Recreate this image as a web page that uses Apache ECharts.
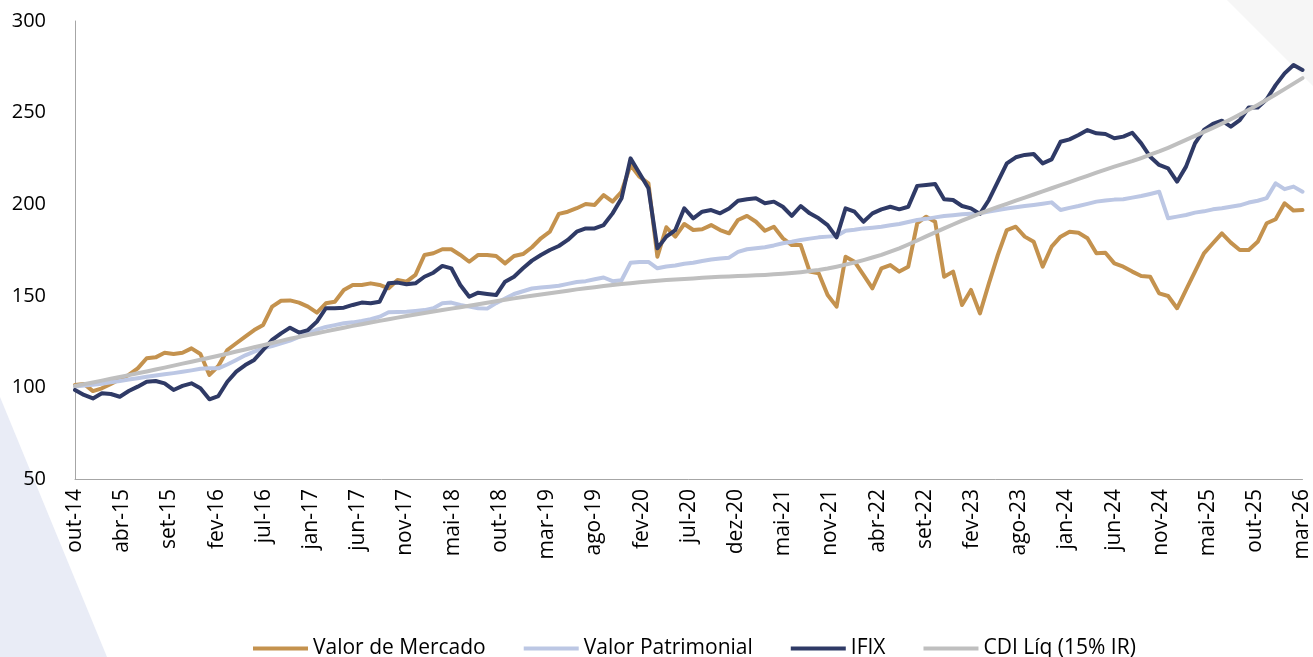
<!DOCTYPE html>
<html>
<head>
<meta charset="utf-8">
<script src="https://cdn.jsdelivr.net/npm/echarts@6/dist/echarts.min.js"></script>
<style>
  html, body { margin: 0; padding: 0; background: #fff; }
  #chart { width: 1313px; height: 657px; }
</style>
</head>
<body>
<div id="chart"></div>
<script>
// meses de out-14 a mar-26 (138 pontos mensais)
var meses = ['jan', 'fev', 'mar', 'abr', 'mai', 'jun', 'jul', 'ago', 'set', 'out', 'nov', 'dez'];
var datas = [];
for (var i = 0; i < 138; i++) {
    var m = 9 + i;
    datas.push(meses[m % 12] + '-' + (14 + Math.floor(m / 12)));
}

// rótulos do eixo x, como no gráfico original
var rotulosX = ['out-14', 'abr-15', 'set-15', 'fev-16', 'jul-16', 'jan-17', 'jun-17', 'nov-17', 'mai-18',
    'out-18', 'mar-19', 'ago-19', 'fev-20', 'jul-20', 'dez-20', 'mai-21', 'nov-21', 'abr-22', 'set-22',
    'fev-23', 'ago-23', 'jan-24', 'jun-24', 'nov-24', 'mai-25', 'out-25', 'mar-26'];

var valorMercado = [
    101.3, 101.9, 98.0, 99.5, 101.9, 104.4, 106.8, 110.4, 115.9, 116.4,
    118.9, 118.2, 118.9, 121.3, 118.2, 106.8, 111.7, 120.4, 124.1, 127.7,
    131.3, 134.1, 144.1, 147.3, 147.5, 146.3, 144.1, 140.8, 145.9, 146.8,
    153.2, 155.9, 155.9, 156.8, 155.9, 154.1, 158.6, 157.7, 161.4, 172.3,
    173.2, 175.4, 175.4, 172.3, 168.6, 172.3, 172.3, 171.7, 167.7, 171.7,
    172.8, 176.5, 181.4, 185.0, 194.7, 195.9, 197.8, 200.1, 199.6, 205.0,
    201.4, 206.8, 221.4, 215.0, 211.4, 171.3, 187.4, 182.3, 189.2, 185.9,
    186.3, 188.6, 185.9, 184.1, 191.4, 193.6, 190.4, 185.5, 187.7, 181.4,
    177.7, 177.7, 163.2, 162.3, 150.4, 144.1, 171.3, 168.6, 161.4, 154.1,
    165.0, 166.8, 163.2, 165.9, 189.6, 193.2, 190.4, 160.4, 163.2, 145.0,
    153.2, 140.4, 156.8, 172.3, 185.9, 187.7, 182.3, 179.5, 165.9, 176.8,
    182.3, 185.0, 184.4, 181.4, 173.2, 173.5, 167.7, 165.9, 163.2, 160.8,
    160.4, 151.3, 149.9, 143.2, 153.2, 163.2, 173.2, 178.7, 184.1, 179.0,
    175.0, 175.0, 179.5, 189.6, 191.8, 200.5, 196.5, 196.8
];

var valorPatrimonial = [
    100.5, 101.0, 101.5, 102.0, 102.8, 103.5, 104.3, 105.0, 105.8, 106.5,
    107.2, 107.8, 108.5, 109.3, 110.2, 110.5, 110.4, 112.5, 115.0, 117.5,
    119.5, 121.3, 122.5, 124.0, 125.5, 127.5, 129.5, 131.5, 133.0, 134.0,
    135.0, 135.5, 136.2, 137.2, 138.6, 141.0, 141.2, 141.3, 141.7, 142.2,
    143.2, 145.9, 146.3, 145.0, 144.1, 143.2, 143.0, 146.0, 148.5, 151.0,
    152.5, 154.0, 154.5, 155.0, 155.5, 156.5, 157.5, 158.0, 159.0, 160.0,
    158.0, 158.5, 168.0, 168.5, 168.5, 165.0, 166.0, 166.5, 167.5, 168.0,
    169.0, 169.8, 170.3, 170.8, 174.0, 175.4, 176.0, 176.5, 177.5, 178.7,
    179.5, 180.5, 181.2, 181.9, 182.3, 182.6, 185.5, 186.0, 186.8, 187.2,
    187.7, 188.5, 189.2, 190.3, 191.4, 192.0, 192.8, 193.6, 194.0, 194.5,
    194.8, 195.0, 196.0, 196.8, 197.7, 198.3, 199.0, 199.6, 200.3, 201.0,
    196.8, 198.0, 199.0, 200.2, 201.4, 202.0, 202.5, 202.7, 203.6, 204.5,
    205.6, 206.8, 192.3, 193.2, 194.1, 195.4, 196.1, 197.2, 197.8, 198.6,
    199.4, 200.9, 201.9, 203.3, 211.4, 208.2, 209.6, 206.8
];

var ifix = [
    98.6, 95.9, 94.0, 96.8, 96.4, 94.9, 98.0, 100.4, 103.1, 103.5,
    102.2, 98.6, 100.8, 102.2, 99.5, 93.5, 95.3, 103.1, 108.6, 112.2,
    115.0, 120.4, 125.9, 129.5, 132.6, 129.9, 131.3, 135.9, 143.2, 143.2,
    143.5, 145.0, 146.3, 145.9, 146.8, 156.8, 157.2, 156.3, 156.8, 160.4,
    162.6, 166.3, 165.0, 155.9, 149.5, 151.7, 151.0, 150.4, 157.7, 160.4,
    165.0, 169.2, 172.3, 175.0, 177.2, 180.5, 185.0, 186.8, 186.8, 188.6,
    195.0, 203.2, 225.0, 216.9, 208.7, 175.9, 182.3, 185.9, 197.8, 192.3,
    195.9, 196.8, 195.0, 197.7, 201.9, 202.7, 203.2, 200.5, 201.4, 198.6,
    193.6, 199.0, 195.0, 192.3, 188.6, 181.9, 197.7, 195.9, 190.4, 195.0,
    197.2, 198.6, 197.2, 198.6, 210.0, 210.5, 211.0, 202.7, 202.3, 199.0,
    197.7, 194.7, 202.3, 212.3, 222.3, 225.6, 226.9, 227.4, 222.3, 224.5,
    234.1, 235.4, 237.8, 240.5, 238.7, 238.3, 236.0, 236.9, 239.0, 233.2,
    225.9, 221.4, 219.6, 212.3, 220.5, 233.2, 240.5, 243.8, 245.6, 242.3,
    245.9, 252.8, 252.8, 257.3, 265.0, 271.4, 276.0, 273.3
];

var cdiLiq = [
    100.8, 101.8, 102.7, 103.7, 104.7, 105.7, 106.7, 107.7, 108.7, 109.8,
    110.8, 111.9, 113.0, 114.0, 115.1, 116.2, 117.3, 118.4, 119.6, 120.7,
    121.9, 123.0, 124.2, 125.4, 126.6, 127.6, 128.6, 129.6, 130.6, 131.6,
    132.6, 133.6, 134.5, 135.4, 136.3, 137.2, 138.1, 139.0, 139.8, 140.6,
    141.4, 142.2, 143.0, 143.8, 144.6, 145.4, 146.2, 147.0, 147.8, 148.6,
    149.3, 150.0, 150.7, 151.4, 152.1, 152.8, 153.5, 154.1, 154.7, 155.3,
    155.9, 156.4, 156.9, 157.4, 157.8, 158.2, 158.6, 158.9, 159.2, 159.5,
    159.8, 160.1, 160.4, 160.6, 160.8, 161.0, 161.2, 161.4, 161.7, 162.0,
    162.4, 162.9, 163.5, 164.1, 164.9, 165.9, 167.0, 168.2, 169.5, 170.9,
    172.3, 174.1, 175.9, 178.0, 180.2, 182.4, 184.6, 186.8, 188.9, 191.0,
    193.0, 195.0, 196.8, 198.5, 200.2, 201.9, 203.6, 205.3, 207.0, 208.7,
    210.4, 212.1, 213.8, 215.5, 217.2, 218.9, 220.5, 222.0, 223.5, 225.2,
    227.0, 228.8, 230.8, 232.9, 235.1, 237.3, 239.5, 241.7, 244.0, 246.4,
    248.9, 251.5, 254.2, 257.0, 259.9, 262.8, 265.8, 268.8
];

var fonte = 'Open Sans';
var chart = echarts.init(document.getElementById('chart'));

function linha(nome, dados, cor) {
    return {
        name: nome,
        type: 'line',
        data: dados,
        xAxisIndex: 0,
        symbol: 'none',
        smooth: false,
        lineStyle: { width: 4, color: cor, join: 'round', cap: 'round' },
        itemStyle: { color: cor }
    };
}

var option = {
    backgroundColor: '#ffffff',
    animation: false,
    textStyle: { fontFamily: fonte },
    graphic: [
        {
            type: 'polygon',
            z: -10,
            shape: { points: [[0, 397], [0, 657], [107, 657]] },
            style: { fill: '#e9ecf6' }
        },
        {
            type: 'polygon',
            z: -10,
            shape: { points: [[1227, 0], [1313, 0], [1313, 86]] },
            style: { fill: '#f6f6f6' }
        }
    ],
    grid: { left: 75, right: 10, top: 21, bottom: 178, containLabel: false },
    legend: {
        left: 248,
        top: 633,
        icon: 'rect',
        itemWidth: 55,
        itemHeight: 4,
        itemGap: 38,
        textStyle: { fontFamily: fonte, fontSize: 21, color: '#000' },
        data: ['Valor de Mercado', 'Valor Patrimonial', 'IFIX', 'CDI Líq (15% IR)']
    },
    xAxis: [
        {
            type: 'category',
            data: datas,
            boundaryGap: false,
            axisLine: { show: true, lineStyle: { color: '#a6a6a6', width: 1 } },
            axisTick: { show: false },
            axisLabel: { show: false },
            splitLine: { show: false }
        },
        {
            type: 'category',
            data: rotulosX,
            boundaryGap: false,
            position: 'bottom',
            offset: 0,
            axisLine: { show: false },
            axisTick: { show: false },
            axisLabel: {
                show: true,
                interval: 0,
                rotate: 90,
                margin: 10,
                fontFamily: fonte,
                fontSize: 21,
                color: '#000'
            },
            splitLine: { show: false }
        }
    ],
    yAxis: {
        type: 'value',
        min: 50,
        max: 300,
        interval: 50,
        axisLine: { show: true, lineStyle: { color: '#a6a6a6', width: 1 } },
        axisTick: { show: false },
        splitLine: { show: false },
        axisLabel: { margin: 29, fontFamily: fonte, fontSize: 20, color: '#000' }
    },
    series: [
        linha('Valor de Mercado', valorMercado, '#c4924e'),
        linha('Valor Patrimonial', valorPatrimonial, '#bcc7e4'),
        linha('IFIX', ifix, '#2f3a66'),
        linha('CDI Líq (15% IR)', cdiLiq, '#bfbfbf')
    ]
};

chart.setOption(option);
</script>
</body>
</html>
